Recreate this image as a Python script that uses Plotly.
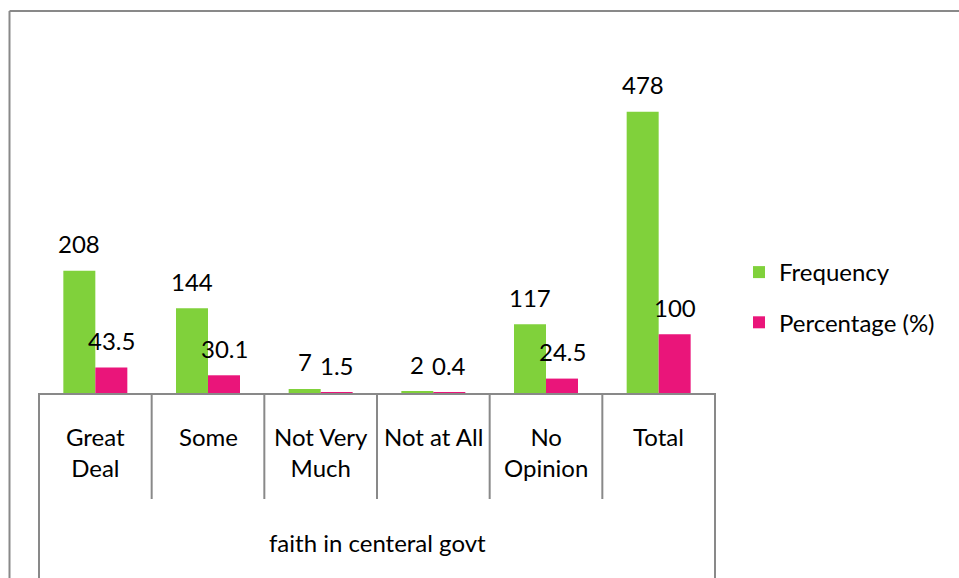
import plotly.graph_objects as go

# Survey responses: faith in central government
group_label = "faith in centeral govt"
categories = ["Great Deal", "Some", "Not Very Much", "Not at All", "No Opinion", "Total"]
category_text = ["Great<br>Deal", "Some", "Not Very<br>Much", "Not at All", "No<br>Opinion", "Total"]
frequency = [208, 144, 7, 2, 117, 478]
percentage = [43.5, 30.1, 1.5, 0.4, 24.5, 100]

GREEN = "#80D13B"
PINK = "#EA157A"
AXIS_GREY = "#898989"
FONT = "Lato"
FS = 24

# Figure / plot-area geometry in pixels
W, H = 959, 578
M_L, M_R, M_T, M_B = 39, 244, 40, 185
PLOT_W = W - M_L - M_R
PLOT_H = H - M_T - M_B


def px_x(x):
    """Pixel column -> paper x."""
    return (x - M_L) / PLOT_W


def px_y(y):
    """Pixel row -> paper y."""
    return (H - M_B - y) / PLOT_H


fig = go.Figure()
fig.add_trace(go.Bar(x=categories, y=frequency, name="Frequency",
                     marker=dict(color=GREEN, line=dict(width=0)),
                     legendgroup="f"))
fig.add_trace(go.Bar(x=categories, y=percentage, name="Percentage (%)",
                     marker=dict(color=PINK, line=dict(width=0)),
                     legendgroup="p"))

annotations = []
# value labels above each bar
for cat, f, p in zip(categories, frequency, percentage):
    for val, shift in ((f, -16), (p, 16)):
        annotations.append(dict(x=cat, y=val, xref="x", yref="y",
                                text=f"{val:g}", showarrow=False,
                                xanchor="center", yanchor="middle",
                                xshift=shift, yshift=27,
                                font=dict(family=FONT, size=FS, color="#000")))

# first-level category labels
n = len(categories)
for cat, txt in zip(categories, category_text):
    annotations.append(dict(x=cat, xref="x", y=px_y(420), yref="paper",
                            text=txt, showarrow=False, xanchor="center",
                            yanchor="top", align="center",
                            font=dict(family=FONT, size=FS, color="#000")))
# second-level group label
annotations.append(dict(x=0.5, xref="paper", y=px_y(542), yref="paper",
                        text=group_label, showarrow=False, xanchor="center",
                        yanchor="middle",
                        font=dict(family=FONT, size=FS, color="#000")))

shapes = []
# dividers between categories (short) and around the group (full height)
for k in range(n + 1):
    bottom = 590 if k in (0, n) else 499
    shapes.append(dict(type="line", xref="paper", yref="paper",
                       x0=k / n, x1=k / n, y0=0, y1=px_y(bottom),
                       line=dict(color=AXIS_GREY, width=2)))
# chart-area frame (left and top edges)
shapes.append(dict(type="line", xref="paper", yref="paper",
                   x0=px_x(9.5), x1=px_x(9.5), y0=px_y(11), y1=px_y(600),
                   line=dict(color=AXIS_GREY, width=2)))
shapes.append(dict(type="line", xref="paper", yref="paper",
                   x0=px_x(9.5), x1=px_x(1000), y0=px_y(11), y1=px_y(11),
                   line=dict(color=AXIS_GREY, width=2)))

fig.update_layout(
    width=W, height=H,
    margin=dict(l=M_L, r=M_R, t=M_T, b=M_B, pad=0),
    paper_bgcolor="white", plot_bgcolor="white",
    barmode="group", bargap=0.432, bargroupgap=0,
    font=dict(family=FONT, size=FS, color="#000"),
    xaxis=dict(type="category", showticklabels=False, ticks="",
               showline=True, linecolor=AXIS_GREY, linewidth=2,
               showgrid=False, zeroline=False, fixedrange=True),
    yaxis=dict(range=[0, 600], visible=False, showgrid=False,
               zeroline=False),
    showlegend=True,
    legend=dict(x=px_x(739), y=px_y(250), xref="paper", yref="paper",
                xanchor="left", yanchor="top",
                font=dict(family=FONT, size=FS, color="#000"),
                traceorder="grouped", tracegroupgap=16,
                bgcolor="rgba(0,0,0,0)", borderwidth=0),
    annotations=annotations,
    shapes=shapes,
)

fig.write_html("out.html")
